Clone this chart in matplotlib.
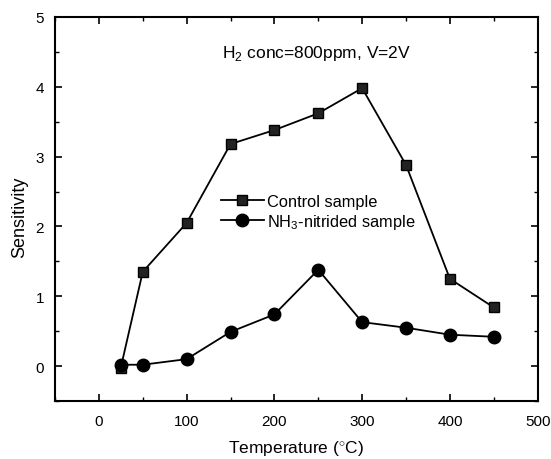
import matplotlib
matplotlib.use("Agg")
import matplotlib.pyplot as plt
from matplotlib.ticker import MultipleLocator

plt.rcParams['font.family'] = ['Liberation Sans', 'DejaVu Sans']
plt.rcParams['mathtext.fontset'] = 'custom'
plt.rcParams['mathtext.rm'] = 'Liberation Sans'

temperature = [25, 50, 100, 150, 200, 250, 300, 350, 400, 450]
control = [-0.02, 1.35, 2.05, 3.18, 3.38, 3.62, 3.98, 2.88, 1.25, 0.84]
nitrided = [0.02, 0.02, 0.10, 0.49, 0.74, 1.38, 0.63, 0.55, 0.45, 0.42]

fig = plt.figure(figsize=(5.51, 4.60), dpi=100)
ax = fig.add_axes([0.0998, 0.126, 0.876, 0.835])

ax.plot(temperature, control, '-s', color='black', lw=1.3, ms=6.5,
        mfc='#222222', mec='black', label='Control sample')
ax.plot(temperature, nitrided, '-o', color='black', lw=1.3, ms=9,
        mfc='black', mec='black', label=r'NH$_3$-nitrided sample')

ax.set_xlim(-50, 500)
ax.set_ylim(-0.5, 5)
ax.xaxis.set_major_locator(MultipleLocator(100))
ax.xaxis.set_minor_locator(MultipleLocator(50))
ax.yaxis.set_major_locator(MultipleLocator(1))
ax.yaxis.set_minor_locator(MultipleLocator(0.5))
ax.tick_params(which='both', direction='in', top=True, right=True, labelsize=11)
ax.tick_params(axis='x', pad=9)
ax.tick_params(axis='y', pad=8)
ax.tick_params(which='major', length=5, width=1.2)
ax.tick_params(which='minor', length=3, width=1.0)
for s in ax.spines.values():
    s.set_linewidth(1.5)

ax.set_xlabel('Temperature ($^{\\circ}$C)', fontsize=12.5, labelpad=8)
ax.set_ylabel('Sensitivity', fontsize=13)
ax.yaxis.set_label_coords(-0.056, 0.48)

ax.text(0.345, 0.895, r'H$_2$ conc=800ppm, V=2V', transform=ax.transAxes, fontsize=12.5)

ax.legend(loc='upper left', bbox_to_anchor=(0.32, 0.57), frameon=False,
          fontsize=11.8, handlelength=2.6, handletextpad=0.2, labelspacing=0.2,
          borderpad=0.2)

fig.savefig('out.png', dpi=100)
